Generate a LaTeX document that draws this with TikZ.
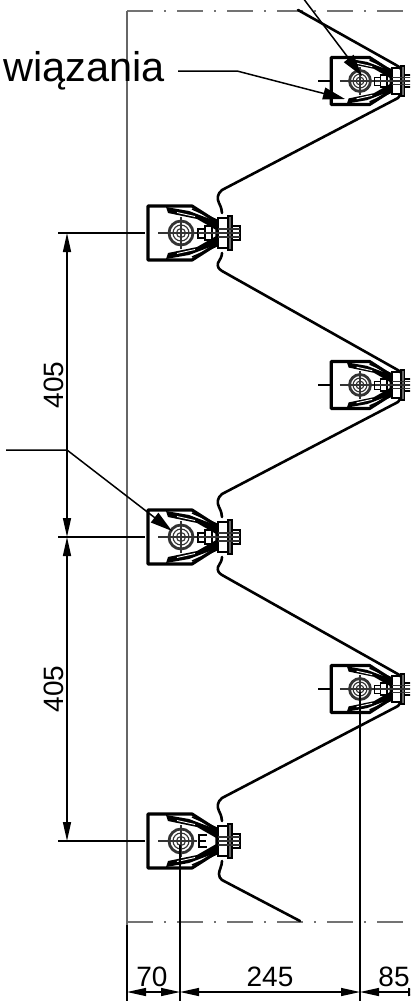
\documentclass[tikz,border=0pt]{standalone}
\usepackage{fontspec}
\setmainfont{Liberation Sans}
\usetikzlibrary{arrows.meta}

\tikzset{
  sheet/.style={line width=2.6pt, black, line cap=round, line join=round},
  outline/.style={line width=3.2pt, black, line join=round},
  thin part/.style={line width=1.1pt, black!80},
  axis/.style={line width=1.2pt, black!55,
    dash pattern=on 26pt off 11pt on 2pt off 11pt},
  dimline/.style={line width=1.4pt, black},
  dimarrows/.style={dimline, {Triangle[length=19pt,width=8pt]}-{Triangle[length=19pt,width=8pt]}},
  leader/.style={line width=1.5pt, black, -{Triangle[length=22pt,width=12pt]}},
  dimtext/.style={font=\fontsize{28}{28}\selectfont, inner sep=0pt}
}

\begin{document}
\begin{tikzpicture}[x=1pt, y=-1pt]
  \clip (0,0) rectangle (410,1001);
  \fill[white] (0,0) rectangle (410,1001);

  % Axes and frame
  \draw[axis] (127,11) -- (410,11);
  \draw[axis] (127,922) -- (410,922);
  \draw[line width=1.2pt, black!60] (127,11) -- (127,925);
  \draw[dimline] (127,925) -- (127,1001);

  % Corrugated sheet
  \draw[sheet] (298,10) -- (396,65) .. controls (400,67) and (402,70) .. (403,73);
  \foreach \cy in {81,385,689} {
    \draw[sheet] (403,\cy+10) -- (398,\cy+17) -- (222,\cy+109)
      .. controls (217,\cy+113) and (217,\cy+118) .. (219,\cy+122)
      .. controls (221,\cy+126) and (222,\cy+129) .. (222,\cy+132);
  }
  \foreach \cy in {233,537} {
    \draw[sheet] (222,\cy+20)
      .. controls (222,\cy+24) and (220,\cy+26) .. (218,\cy+30)
      .. controls (217,\cy+34) and (219,\cy+36) .. (222,\cy+38)
      -- (396,\cy+136) .. controls (400,\cy+138) and (402,\cy+140) .. (403,\cy+144);
  }
  \draw[sheet] (222,861) .. controls (222,866) and (219,870) .. (219,874)
    .. controls (219,877) and (220,878) .. (222,880) -- (300,921);

  % Clamps: x, y, scale
  \foreach \cx/\cy/\sc in {181/233/1, 181/537/1, 181/841/1, 360/81/0.87, 360/385/0.87, 360/689/0.87} {
    \begin{scope}[shift={(\cx,\cy)}, scale=\sc]
      % Body
      \draw[outline] (-33,-27) -- (11,-27) -- (36,-11) -- (36,11) -- (11,27) -- (-33,27) -- cycle;
      % Arms
      \foreach \s in {1,-1} {
        \fill[black] (-15,-26*\s) -- (8,-22*\s) -- (37,-11*\s) -- (37,-2*\s)
          -- (16,-14*\s) -- (-13,-20*\s) -- cycle;
        \draw[white, line width=0.9pt] (-4,-20.5*\s) -- (14,-16.5*\s);
        \draw[line width=1.4pt] (11,-24*\s) -- (36,-13*\s);
      }
      % Pin
      \draw[line width=2.8pt, black!80] (0,0) circle (12);
      \draw[thin part] (0,0) circle (8);
      \draw[thin part] (0,0) circle (4.5);
      \draw[thin part] (-23,0) -- (16,0);
      \draw[thin part] (0,-16) -- (0,16);
      % Plates and bolt
      \draw[line width=1.6pt] (37,-15) rectangle (47,15);
      \draw[line width=1.6pt, fill=black!60] (47,-17) rectangle (51,17);
      \draw[line width=1.2pt] (51,-7) rectangle (59,7);
      \draw[thin part] (37,-4) -- (59,-4) (37,0) -- (59,0) (37,4) -- (59,4);
      \ifnum\cy=841
        \draw[line width=1.4pt] (26,-6) -- (18,-6) -- (18,6) -- (26,6) (18,0) -- (25,0);
      \else
        \draw[line width=1.2pt] (17,-4) rectangle (24,5);
        \draw[line width=1.2pt] (24,-7) rectangle (31,7);
        \draw[thin part] (17,0) -- (37,0);
      \fi
    \end{scope}
  }

  % Vertical dimensions
  \coordinate (dimA) at (67,233);
  \coordinate (dimB) at (67,537);
  \coordinate (dimC) at (67,841);
  \foreach \n in {A,B,C} {
    \draw[dimline] (dim\n) ++(-9,0) -- ++(87,0);
  }
  \draw[dimarrows] (dimA) -- (dimB);
  \draw[dimarrows] (dimB) -- (dimC);
  \node[dimtext, rotate=90] (spanA) at (54,385) {405};
  \node[dimtext, rotate=90] (spanB) at (54,689) {405};

  % Centre line stubs of the right clamps
  \foreach \cy in {81,385,689} {
    \draw[dimline] (318,\cy) -- (331,\cy);
  }

  % Horizontal dimensions
  \coordinate (endA) at (127,992);
  \coordinate (endB) at (180,992);
  \coordinate (endC) at (360,992);
  \coordinate (endD) at (427,992);
  \draw[line width=1.8pt] (180,845) -- (180,1001);
  \draw[line width=1.8pt] (360,692) -- (360,1001);
  \draw[dimarrows] (endA) -- (endB);
  \draw[dimarrows] (endB) -- (endC);
  \draw[dimarrows] (endC) -- (endD);
  \node[dimtext, anchor=base] (gapA) at (152,986) {70};
  \node[dimtext, anchor=base] (gapB) at (270,986) {245};
  \node[dimtext, anchor=base] (gapC) at (394,986) {85};

  % Leaders
  \node[font=\fontsize{41.5}{41.5}\selectfont, inner sep=0pt, anchor=base west] (label) at (3,81) {wiązania};
  \coordinate (kneeA) at (237,71);
  \coordinate (kneeB) at (67,450);
  \coordinate (tipA) at (345,99);
  \coordinate (tipB) at (362,76);
  \coordinate (tipC) at (172,531);
  \draw[leader] (178,71) -- (kneeA) -- (tipA);
  \draw[leader] (303,-2) -- (tipB);
  \draw[leader] (6,450) -- (kneeB) -- (tipC);
\end{tikzpicture}
\end{document}
